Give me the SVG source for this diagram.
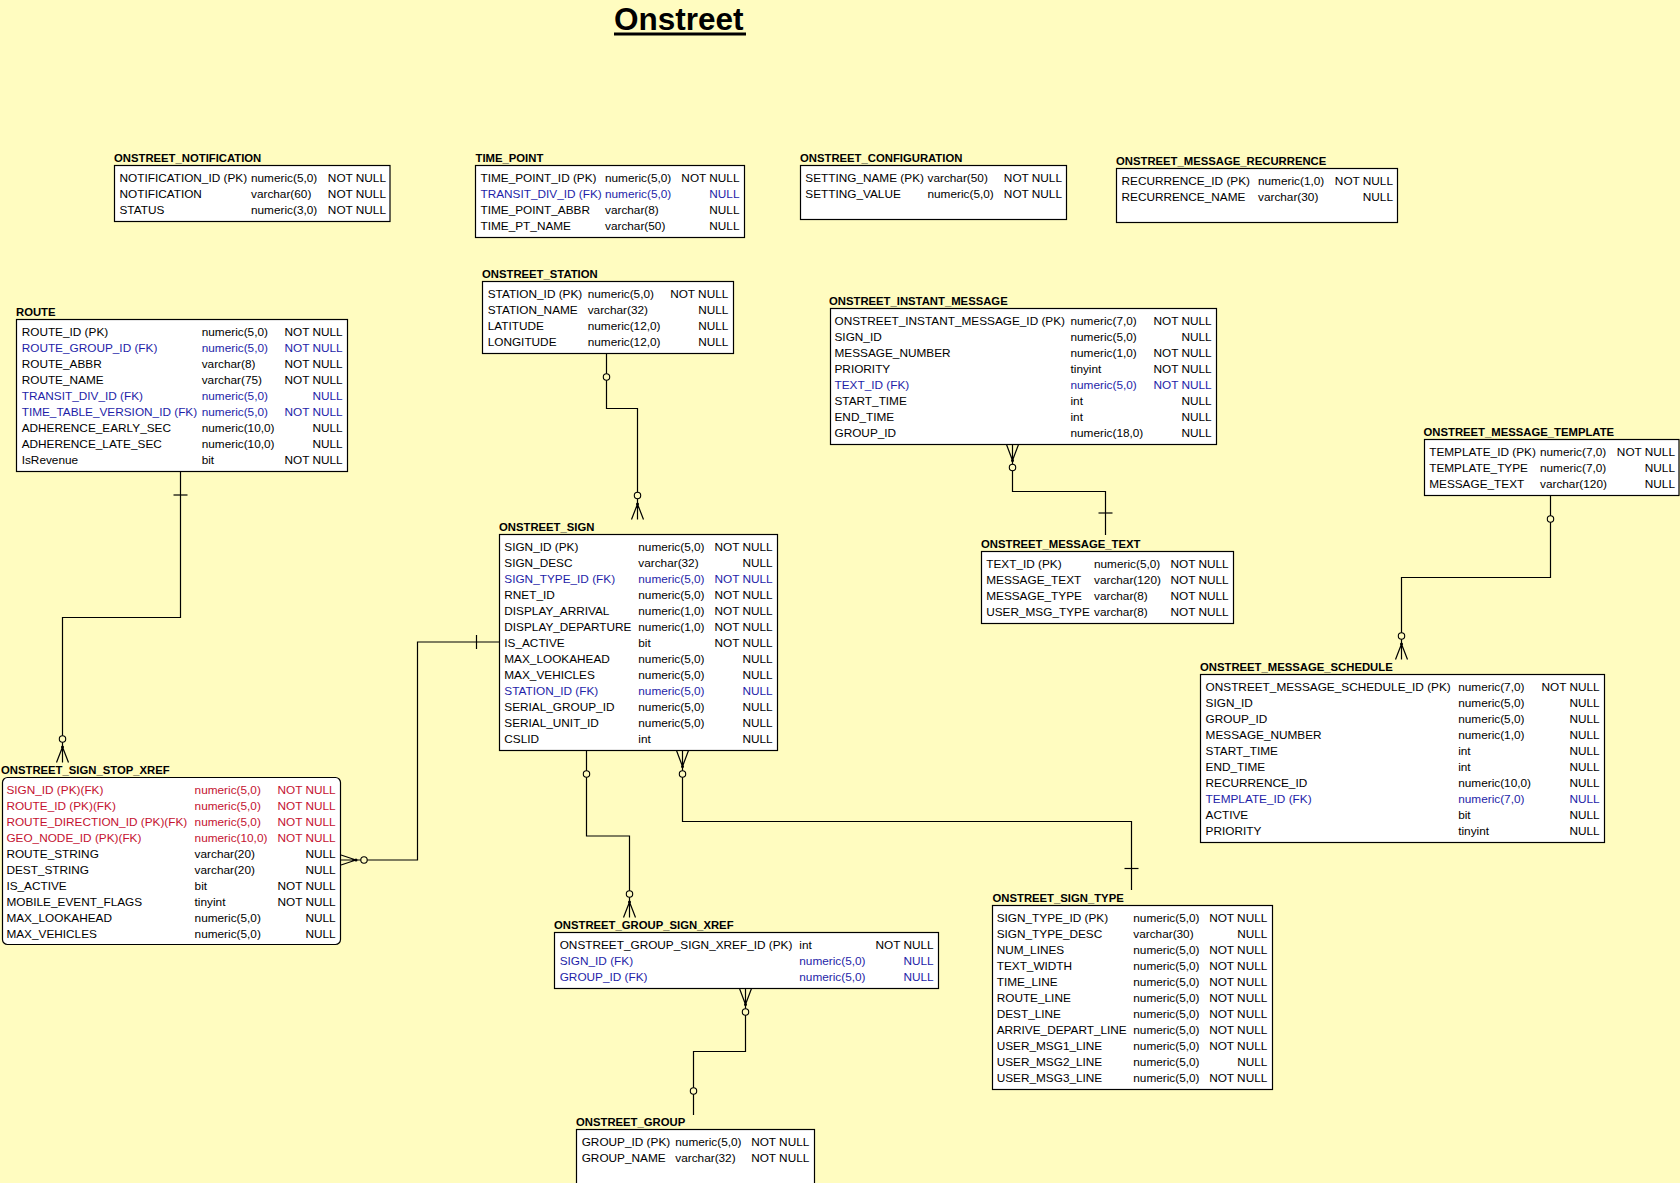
<svg xmlns="http://www.w3.org/2000/svg" width="1680" height="1183" viewBox="0 0 1680 1183">
<style>
  .bg { fill: #FFFCC0; }
  .box { fill: #FFFFFF; stroke: #000000; stroke-width: 1.2; }
  .t { font-family: "Liberation Sans", Arial, sans-serif; font-weight: bold; font-size: 11.3px; fill: #000000; }
  .c { font-family: "Liberation Sans", Arial, sans-serif; font-size: 11.8px; fill: #000000; }
  .k { fill: #1E1EA8; }
  .p { fill: #C41230; }
  .e { text-anchor: end; }
  .ln { fill: none; stroke: #000000; stroke-width: 1.2; }
  .opt { fill: #FFFCC0; stroke: #000000; stroke-width: 1.1; }
  .dot { fill: #000000; }
  .hd { font-family: "Liberation Sans", Arial, sans-serif; font-weight: bold; font-size: 31.5px; fill: #000000; }
</style>
<defs>
  <!-- crow's foot pointing down: apex at 0,0, legs spreading to y=15.5 -->
  <g id="crowDown">
    <path class="ln" d="M0,0 L-6,15.5 M0,0 V15.5 M0,0 L6,15.5"/>
    <circle class="dot" cx="0" cy="0" r="1.5"/>
  </g>
  <!-- crow's foot pointing up: legs at y=0 (table edge), apex at y=16 -->
  <g id="crowUp">
    <path class="ln" d="M-6,0 L0,16 M0,0 V16 M6,0 L0,16"/>
    <circle class="dot" cx="0" cy="16" r="1.5"/>
  </g>
</defs>

<rect class="bg" x="0" y="0" width="1680" height="1183"/>

<!-- heading -->
<g id="heading">
  <text class="hd" x="614" y="30">Onstreet</text>
  <rect x="614" y="32.5" width="132" height="3" fill="#000000"/>
</g>

<!-- relationships -->
<g id="connectors">
  <!-- ROUTE -> ONSTREET_SIGN_STOP_XREF -->
  <path class="ln" d="M180.5,471.5 V617.5 H62.5 V747"/>
  <path class="ln" d="M173.5,495 H187.5"/>
  <circle class="opt" cx="62.5" cy="739" r="3.2"/>
  <use href="#crowDown" x="62.5" y="747"/>

  <!-- ONSTREET_STATION -> ONSTREET_SIGN -->
  <path class="ln" d="M606.5,353.5 V408.5 H637.5 V504"/>
  <circle class="opt" cx="606.5" cy="377" r="3.2"/>
  <circle class="opt" cx="637.5" cy="495.5" r="3.2"/>
  <use href="#crowDown" x="637.5" y="504"/>

  <!-- ONSTREET_SIGN -> ONSTREET_SIGN_STOP_XREF -->
  <path class="ln" d="M499.5,642 H417.5 V860 H356"/>
  <path class="ln" d="M476.5,635 V649"/>
  <circle class="opt" cx="364" cy="860" r="3.2"/>
  <path class="ln" d="M356,860 L341,855 M356,860 H341 M356,860 L341,865"/>
  <circle class="dot" cx="356" cy="860" r="1.5"/>

  <!-- ONSTREET_SIGN -> ONSTREET_GROUP_SIGN_XREF -->
  <path class="ln" d="M586.5,750.5 V836 H629.5 V902"/>
  <circle class="opt" cx="586.5" cy="774" r="3.2"/>
  <circle class="opt" cx="629.5" cy="894" r="3.2"/>
  <use href="#crowDown" x="629.5" y="902"/>

  <!-- ONSTREET_SIGN_TYPE -> ONSTREET_SIGN -->
  <path class="ln" d="M682.5,766.5 V821.5 H1131.5 V890"/>
  <path class="ln" d="M1124.5,868.5 H1138.5"/>
  <use href="#crowUp" x="682.5" y="750.5"/>
  <circle class="opt" cx="682.5" cy="774" r="3.2"/>

  <!-- ONSTREET_MESSAGE_TEXT -> ONSTREET_INSTANT_MESSAGE -->
  <path class="ln" d="M1012.5,460.5 V491.5 H1105.5 V535"/>
  <path class="ln" d="M1098.5,513 H1112.5"/>
  <use href="#crowUp" x="1012.5" y="444.5"/>
  <circle class="opt" cx="1012.5" cy="467.5" r="3.2"/>

  <!-- ONSTREET_MESSAGE_TEMPLATE -> ONSTREET_MESSAGE_SCHEDULE -->
  <path class="ln" d="M1550.5,495.5 V577.5 H1401.5 V644"/>
  <circle class="opt" cx="1550.5" cy="519" r="3.2"/>
  <circle class="opt" cx="1401.5" cy="636" r="3.2"/>
  <use href="#crowDown" x="1401.5" y="644"/>

  <!-- ONSTREET_GROUP -> ONSTREET_GROUP_SIGN_XREF -->
  <path class="ln" d="M745.5,1004.5 V1051.5 H693.5 V1115"/>
  <use href="#crowUp" x="745.5" y="988.5"/>
  <circle class="opt" cx="745.5" cy="1012" r="3.2"/>
  <circle class="opt" cx="693.5" cy="1091" r="3.2"/>
</g>

<!-- tables -->
<g id="onstreet_notification">
  <text class="t" x="114" y="162">ONSTREET_NOTIFICATION</text>
  <rect class="box" x="114.5" y="165.5" width="275.5" height="56"/>
  <text class="c" x="119.5" y="182">NOTIFICATION_ID (PK)</text><text class="c" x="251" y="182">numeric(5,0)</text><text class="c e" x="386" y="182">NOT NULL</text>
  <text class="c" x="119.5" y="198">NOTIFICATION</text><text class="c" x="251" y="198">varchar(60)</text><text class="c e" x="386" y="198">NOT NULL</text>
  <text class="c" x="119.5" y="214">STATUS</text><text class="c" x="251" y="214">numeric(3,0)</text><text class="c e" x="386" y="214">NOT NULL</text>
</g>

<g id="time_point">
  <text class="t" x="475.5" y="162">TIME_POINT</text>
  <rect class="box" x="475.5" y="165.5" width="269" height="72"/>
  <text class="c" x="480.5" y="182">TIME_POINT_ID (PK)</text><text class="c" x="605" y="182">numeric(5,0)</text><text class="c e" x="739.5" y="182">NOT NULL</text>
  <text class="c k" x="480.5" y="198">TRANSIT_DIV_ID (FK)</text><text class="c k" x="605" y="198">numeric(5,0)</text><text class="c k e" x="739.5" y="198">NULL</text>
  <text class="c" x="480.5" y="214">TIME_POINT_ABBR</text><text class="c" x="605" y="214">varchar(8)</text><text class="c e" x="739.5" y="214">NULL</text>
  <text class="c" x="480.5" y="230">TIME_PT_NAME</text><text class="c" x="605" y="230">varchar(50)</text><text class="c e" x="739.5" y="230">NULL</text>
</g>

<g id="onstreet_configuration">
  <text class="t" x="800" y="162">ONSTREET_CONFIGURATION</text>
  <rect class="box" x="800.5" y="165.5" width="266" height="54"/>
  <text class="c" x="805.3" y="182">SETTING_NAME (PK)</text><text class="c" x="927.5" y="182">varchar(50)</text><text class="c e" x="1062" y="182">NOT NULL</text>
  <text class="c" x="805.3" y="198">SETTING_VALUE</text><text class="c" x="927.5" y="198">numeric(5,0)</text><text class="c e" x="1062" y="198">NOT NULL</text>
</g>

<g id="onstreet_message_recurrence">
  <text class="t" x="1116" y="165">ONSTREET_MESSAGE_RECURRENCE</text>
  <rect class="box" x="1116.5" y="168.5" width="281" height="54"/>
  <text class="c" x="1121.5" y="185">RECURRENCE_ID (PK)</text><text class="c" x="1258" y="185">numeric(1,0)</text><text class="c e" x="1393" y="185">NOT NULL</text>
  <text class="c" x="1121.5" y="201">RECURRENCE_NAME</text><text class="c" x="1258" y="201">varchar(30)</text><text class="c e" x="1393" y="201">NULL</text>
</g>

<g id="route">
  <text class="t" x="16" y="316">ROUTE</text>
  <rect class="box" x="16.5" y="319.5" width="331" height="152"/>
  <text class="c" x="21.7" y="336">ROUTE_ID (PK)</text><text class="c" x="201.7" y="336">numeric(5,0)</text><text class="c e" x="342.7" y="336">NOT NULL</text>
  <text class="c k" x="21.7" y="352">ROUTE_GROUP_ID (FK)</text><text class="c k" x="201.7" y="352">numeric(5,0)</text><text class="c k e" x="342.7" y="352">NOT NULL</text>
  <text class="c" x="21.7" y="368">ROUTE_ABBR</text><text class="c" x="201.7" y="368">varchar(8)</text><text class="c e" x="342.7" y="368">NOT NULL</text>
  <text class="c" x="21.7" y="384">ROUTE_NAME</text><text class="c" x="201.7" y="384">varchar(75)</text><text class="c e" x="342.7" y="384">NOT NULL</text>
  <text class="c k" x="21.7" y="400">TRANSIT_DIV_ID (FK)</text><text class="c k" x="201.7" y="400">numeric(5,0)</text><text class="c k e" x="342.7" y="400">NULL</text>
  <text class="c k" x="21.7" y="416">TIME_TABLE_VERSION_ID (FK)</text><text class="c k" x="201.7" y="416">numeric(5,0)</text><text class="c k e" x="342.7" y="416">NOT NULL</text>
  <text class="c" x="21.7" y="432">ADHERENCE_EARLY_SEC</text><text class="c" x="201.7" y="432">numeric(10,0)</text><text class="c e" x="342.7" y="432">NULL</text>
  <text class="c" x="21.7" y="448">ADHERENCE_LATE_SEC</text><text class="c" x="201.7" y="448">numeric(10,0)</text><text class="c e" x="342.7" y="448">NULL</text>
  <text class="c" x="21.7" y="464">IsRevenue</text><text class="c" x="201.7" y="464">bit</text><text class="c e" x="342.7" y="464">NOT NULL</text>
</g>

<g id="onstreet_station">
  <text class="t" x="482" y="278">ONSTREET_STATION</text>
  <rect class="box" x="482.5" y="281.5" width="251" height="72"/>
  <text class="c" x="487.7" y="298">STATION_ID (PK)</text><text class="c" x="587.7" y="298">numeric(5,0)</text><text class="c e" x="728.3" y="298">NOT NULL</text>
  <text class="c" x="487.7" y="314">STATION_NAME</text><text class="c" x="587.7" y="314">varchar(32)</text><text class="c e" x="728.3" y="314">NULL</text>
  <text class="c" x="487.7" y="330">LATITUDE</text><text class="c" x="587.7" y="330">numeric(12,0)</text><text class="c e" x="728.3" y="330">NULL</text>
  <text class="c" x="487.7" y="346">LONGITUDE</text><text class="c" x="587.7" y="346">numeric(12,0)</text><text class="c e" x="728.3" y="346">NULL</text>
</g>

<g id="onstreet_instant_message">
  <text class="t" x="829" y="305">ONSTREET_INSTANT_MESSAGE</text>
  <rect class="box" x="830.5" y="308.5" width="386" height="136"/>
  <text class="c" x="834.5" y="325">ONSTREET_INSTANT_MESSAGE_ID (PK)</text><text class="c" x="1070.5" y="325">numeric(7,0)</text><text class="c e" x="1211.7" y="325">NOT NULL</text>
  <text class="c" x="834.5" y="341">SIGN_ID</text><text class="c" x="1070.5" y="341">numeric(5,0)</text><text class="c e" x="1211.7" y="341">NULL</text>
  <text class="c" x="834.5" y="357">MESSAGE_NUMBER</text><text class="c" x="1070.5" y="357">numeric(1,0)</text><text class="c e" x="1211.7" y="357">NOT NULL</text>
  <text class="c" x="834.5" y="373">PRIORITY</text><text class="c" x="1070.5" y="373">tinyint</text><text class="c e" x="1211.7" y="373">NOT NULL</text>
  <text class="c k" x="834.5" y="389">TEXT_ID (FK)</text><text class="c k" x="1070.5" y="389">numeric(5,0)</text><text class="c k e" x="1211.7" y="389">NOT NULL</text>
  <text class="c" x="834.5" y="405">START_TIME</text><text class="c" x="1070.5" y="405">int</text><text class="c e" x="1211.7" y="405">NULL</text>
  <text class="c" x="834.5" y="421">END_TIME</text><text class="c" x="1070.5" y="421">int</text><text class="c e" x="1211.7" y="421">NULL</text>
  <text class="c" x="834.5" y="437">GROUP_ID</text><text class="c" x="1070.5" y="437">numeric(18,0)</text><text class="c e" x="1211.7" y="437">NULL</text>
</g>

<g id="onstreet_message_template">
  <text class="t" x="1423.5" y="436">ONSTREET_MESSAGE_TEMPLATE</text>
  <rect class="box" x="1424.5" y="439.5" width="254.5" height="56"/>
  <text class="c" x="1429.2" y="456">TEMPLATE_ID (PK)</text><text class="c" x="1540" y="456">numeric(7,0)</text><text class="c e" x="1675" y="456">NOT NULL</text>
  <text class="c" x="1429.2" y="472">TEMPLATE_TYPE</text><text class="c" x="1540" y="472">numeric(7,0)</text><text class="c e" x="1675" y="472">NULL</text>
  <text class="c" x="1429.2" y="488">MESSAGE_TEXT</text><text class="c" x="1540" y="488">varchar(120)</text><text class="c e" x="1675" y="488">NULL</text>
</g>

<g id="onstreet_sign">
  <text class="t" x="499" y="531">ONSTREET_SIGN</text>
  <rect class="box" x="499.5" y="534.5" width="278" height="216"/>
  <text class="c" x="504.3" y="551">SIGN_ID (PK)</text><text class="c" x="638.3" y="551">numeric(5,0)</text><text class="c e" x="772.7" y="551">NOT NULL</text>
  <text class="c" x="504.3" y="567">SIGN_DESC</text><text class="c" x="638.3" y="567">varchar(32)</text><text class="c e" x="772.7" y="567">NULL</text>
  <text class="c k" x="504.3" y="583">SIGN_TYPE_ID (FK)</text><text class="c k" x="638.3" y="583">numeric(5,0)</text><text class="c k e" x="772.7" y="583">NOT NULL</text>
  <text class="c" x="504.3" y="599">RNET_ID</text><text class="c" x="638.3" y="599">numeric(5,0)</text><text class="c e" x="772.7" y="599">NOT NULL</text>
  <text class="c" x="504.3" y="615">DISPLAY_ARRIVAL</text><text class="c" x="638.3" y="615">numeric(1,0)</text><text class="c e" x="772.7" y="615">NOT NULL</text>
  <text class="c" x="504.3" y="631">DISPLAY_DEPARTURE</text><text class="c" x="638.3" y="631">numeric(1,0)</text><text class="c e" x="772.7" y="631">NOT NULL</text>
  <text class="c" x="504.3" y="647">IS_ACTIVE</text><text class="c" x="638.3" y="647">bit</text><text class="c e" x="772.7" y="647">NOT NULL</text>
  <text class="c" x="504.3" y="663">MAX_LOOKAHEAD</text><text class="c" x="638.3" y="663">numeric(5,0)</text><text class="c e" x="772.7" y="663">NULL</text>
  <text class="c" x="504.3" y="679">MAX_VEHICLES</text><text class="c" x="638.3" y="679">numeric(5,0)</text><text class="c e" x="772.7" y="679">NULL</text>
  <text class="c k" x="504.3" y="695">STATION_ID (FK)</text><text class="c k" x="638.3" y="695">numeric(5,0)</text><text class="c k e" x="772.7" y="695">NULL</text>
  <text class="c" x="504.3" y="711">SERIAL_GROUP_ID</text><text class="c" x="638.3" y="711">numeric(5,0)</text><text class="c e" x="772.7" y="711">NULL</text>
  <text class="c" x="504.3" y="727">SERIAL_UNIT_ID</text><text class="c" x="638.3" y="727">numeric(5,0)</text><text class="c e" x="772.7" y="727">NULL</text>
  <text class="c" x="504.3" y="743">CSLID</text><text class="c" x="638.3" y="743">int</text><text class="c e" x="772.7" y="743">NULL</text>
</g>

<g id="onstreet_message_text">
  <text class="t" x="981" y="548">ONSTREET_MESSAGE_TEXT</text>
  <rect class="box" x="981.5" y="551.5" width="252" height="72"/>
  <text class="c" x="986.2" y="568">TEXT_ID (PK)</text><text class="c" x="1094" y="568">numeric(5,0)</text><text class="c e" x="1228.6" y="568">NOT NULL</text>
  <text class="c" x="986.2" y="584">MESSAGE_TEXT</text><text class="c" x="1094" y="584">varchar(120)</text><text class="c e" x="1228.6" y="584">NOT NULL</text>
  <text class="c" x="986.2" y="600">MESSAGE_TYPE</text><text class="c" x="1094" y="600">varchar(8)</text><text class="c e" x="1228.6" y="600">NOT NULL</text>
  <text class="c" x="986.2" y="616">USER_MSG_TYPE</text><text class="c" x="1094" y="616">varchar(8)</text><text class="c e" x="1228.6" y="616">NOT NULL</text>
</g>

<g id="onstreet_message_schedule">
  <text class="t" x="1200" y="671">ONSTREET_MESSAGE_SCHEDULE</text>
  <rect class="box" x="1200.5" y="674.5" width="404" height="168"/>
  <text class="c" x="1205.6" y="691">ONSTREET_MESSAGE_SCHEDULE_ID (PK)</text><text class="c" x="1458.2" y="691">numeric(7,0)</text><text class="c e" x="1599.6" y="691">NOT NULL</text>
  <text class="c" x="1205.6" y="707">SIGN_ID</text><text class="c" x="1458.2" y="707">numeric(5,0)</text><text class="c e" x="1599.6" y="707">NULL</text>
  <text class="c" x="1205.6" y="723">GROUP_ID</text><text class="c" x="1458.2" y="723">numeric(5,0)</text><text class="c e" x="1599.6" y="723">NULL</text>
  <text class="c" x="1205.6" y="739">MESSAGE_NUMBER</text><text class="c" x="1458.2" y="739">numeric(1,0)</text><text class="c e" x="1599.6" y="739">NULL</text>
  <text class="c" x="1205.6" y="755">START_TIME</text><text class="c" x="1458.2" y="755">int</text><text class="c e" x="1599.6" y="755">NULL</text>
  <text class="c" x="1205.6" y="771">END_TIME</text><text class="c" x="1458.2" y="771">int</text><text class="c e" x="1599.6" y="771">NULL</text>
  <text class="c" x="1205.6" y="787">RECURRENCE_ID</text><text class="c" x="1458.2" y="787">numeric(10,0)</text><text class="c e" x="1599.6" y="787">NULL</text>
  <text class="c k" x="1205.6" y="803">TEMPLATE_ID (FK)</text><text class="c k" x="1458.2" y="803">numeric(7,0)</text><text class="c k e" x="1599.6" y="803">NULL</text>
  <text class="c" x="1205.6" y="819">ACTIVE</text><text class="c" x="1458.2" y="819">bit</text><text class="c e" x="1599.6" y="819">NULL</text>
  <text class="c" x="1205.6" y="835">PRIORITY</text><text class="c" x="1458.2" y="835">tinyint</text><text class="c e" x="1599.6" y="835">NULL</text>
</g>

<g id="onstreet_sign_stop_xref">
  <text class="t" x="1" y="774">ONSTREET_SIGN_STOP_XREF</text>
  <rect class="box" x="2.5" y="777.5" width="338" height="167" rx="5" ry="5"/>
  <text class="c p" x="6.4" y="794">SIGN_ID (PK)(FK)</text><text class="c p" x="194.6" y="794">numeric(5,0)</text><text class="c p e" x="335.7" y="794">NOT NULL</text>
  <text class="c p" x="6.4" y="810">ROUTE_ID (PK)(FK)</text><text class="c p" x="194.6" y="810">numeric(5,0)</text><text class="c p e" x="335.7" y="810">NOT NULL</text>
  <text class="c p" x="6.4" y="826">ROUTE_DIRECTION_ID (PK)(FK)</text><text class="c p" x="194.6" y="826">numeric(5,0)</text><text class="c p e" x="335.7" y="826">NOT NULL</text>
  <text class="c p" x="6.4" y="842">GEO_NODE_ID (PK)(FK)</text><text class="c p" x="194.6" y="842">numeric(10,0)</text><text class="c p e" x="335.7" y="842">NOT NULL</text>
  <text class="c" x="6.4" y="858">ROUTE_STRING</text><text class="c" x="194.6" y="858">varchar(20)</text><text class="c e" x="335.7" y="858">NULL</text>
  <text class="c" x="6.4" y="874">DEST_STRING</text><text class="c" x="194.6" y="874">varchar(20)</text><text class="c e" x="335.7" y="874">NULL</text>
  <text class="c" x="6.4" y="890">IS_ACTIVE</text><text class="c" x="194.6" y="890">bit</text><text class="c e" x="335.7" y="890">NOT NULL</text>
  <text class="c" x="6.4" y="906">MOBILE_EVENT_FLAGS</text><text class="c" x="194.6" y="906">tinyint</text><text class="c e" x="335.7" y="906">NOT NULL</text>
  <text class="c" x="6.4" y="922">MAX_LOOKAHEAD</text><text class="c" x="194.6" y="922">numeric(5,0)</text><text class="c e" x="335.7" y="922">NULL</text>
  <text class="c" x="6.4" y="938">MAX_VEHICLES</text><text class="c" x="194.6" y="938">numeric(5,0)</text><text class="c e" x="335.7" y="938">NULL</text>
</g>

<g id="onstreet_group_sign_xref">
  <text class="t" x="554" y="929">ONSTREET_GROUP_SIGN_XREF</text>
  <rect class="box" x="554.5" y="932.5" width="384" height="56"/>
  <text class="c" x="559.7" y="949">ONSTREET_GROUP_SIGN_XREF_ID (PK)</text><text class="c" x="799.3" y="949">int</text><text class="c e" x="933.7" y="949">NOT NULL</text>
  <text class="c k" x="559.7" y="965">SIGN_ID (FK)</text><text class="c k" x="799.3" y="965">numeric(5,0)</text><text class="c k e" x="933.7" y="965">NULL</text>
  <text class="c k" x="559.7" y="981">GROUP_ID (FK)</text><text class="c k" x="799.3" y="981">numeric(5,0)</text><text class="c k e" x="933.7" y="981">NULL</text>
</g>

<g id="onstreet_sign_type">
  <text class="t" x="992.5" y="902">ONSTREET_SIGN_TYPE</text>
  <rect class="box" x="992.5" y="905.5" width="280" height="184"/>
  <text class="c" x="996.7" y="922">SIGN_TYPE_ID (PK)</text><text class="c" x="1133.3" y="922">numeric(5,0)</text><text class="c e" x="1267.3" y="922">NOT NULL</text>
  <text class="c" x="996.7" y="938">SIGN_TYPE_DESC</text><text class="c" x="1133.3" y="938">varchar(30)</text><text class="c e" x="1267.3" y="938">NULL</text>
  <text class="c" x="996.7" y="954">NUM_LINES</text><text class="c" x="1133.3" y="954">numeric(5,0)</text><text class="c e" x="1267.3" y="954">NOT NULL</text>
  <text class="c" x="996.7" y="970">TEXT_WIDTH</text><text class="c" x="1133.3" y="970">numeric(5,0)</text><text class="c e" x="1267.3" y="970">NOT NULL</text>
  <text class="c" x="996.7" y="986">TIME_LINE</text><text class="c" x="1133.3" y="986">numeric(5,0)</text><text class="c e" x="1267.3" y="986">NOT NULL</text>
  <text class="c" x="996.7" y="1002">ROUTE_LINE</text><text class="c" x="1133.3" y="1002">numeric(5,0)</text><text class="c e" x="1267.3" y="1002">NOT NULL</text>
  <text class="c" x="996.7" y="1018">DEST_LINE</text><text class="c" x="1133.3" y="1018">numeric(5,0)</text><text class="c e" x="1267.3" y="1018">NOT NULL</text>
  <text class="c" x="996.7" y="1034">ARRIVE_DEPART_LINE</text><text class="c" x="1133.3" y="1034">numeric(5,0)</text><text class="c e" x="1267.3" y="1034">NOT NULL</text>
  <text class="c" x="996.7" y="1050">USER_MSG1_LINE</text><text class="c" x="1133.3" y="1050">numeric(5,0)</text><text class="c e" x="1267.3" y="1050">NOT NULL</text>
  <text class="c" x="996.7" y="1066">USER_MSG2_LINE</text><text class="c" x="1133.3" y="1066">numeric(5,0)</text><text class="c e" x="1267.3" y="1066">NULL</text>
  <text class="c" x="996.7" y="1082">USER_MSG3_LINE</text><text class="c" x="1133.3" y="1082">numeric(5,0)</text><text class="c e" x="1267.3" y="1082">NOT NULL</text>
</g>

<g id="onstreet_group">
  <text class="t" x="576" y="1126">ONSTREET_GROUP</text>
  <rect class="box" x="576.5" y="1129.5" width="238" height="70"/>
  <text class="c" x="581.7" y="1146">GROUP_ID (PK)</text><text class="c" x="675.3" y="1146">numeric(5,0)</text><text class="c e" x="809.3" y="1146">NOT NULL</text>
  <text class="c" x="581.7" y="1162">GROUP_NAME</text><text class="c" x="675.3" y="1162">varchar(32)</text><text class="c e" x="809.3" y="1162">NOT NULL</text>
</g>
</svg>
